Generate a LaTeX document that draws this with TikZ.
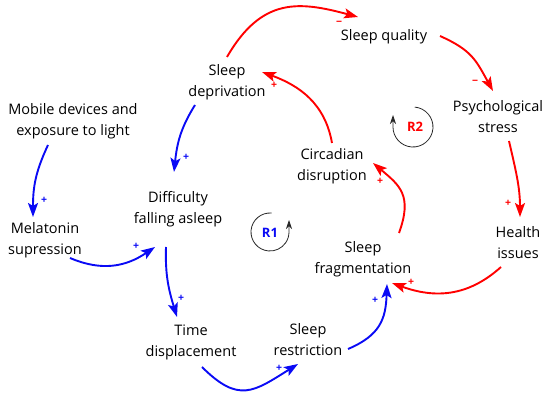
\documentclass[tikz,border=0pt]{standalone}
\usepackage{fontspec}
\setmainfont{Open Sans}
\usetikzlibrary{arrows.meta}
\definecolor{cred}{RGB}{255,0,0}
\definecolor{cblue}{RGB}{10,10,245}
\definecolor{cloop}{RGB}{40,40,40}
\begin{document}
\begin{tikzpicture}[x=1pt,y=1pt,
  lbl/.style={font=\fontsize{14.5}{21}\selectfont, align=center, inner sep=1pt},
  rarr/.style={draw=cred, line width=1.9pt, -{Stealth[length=14pt,width=10pt,inset=3pt]}},
  barr/.style={draw=cblue, line width=1.9pt, -{Stealth[length=14pt,width=10pt,inset=3pt]}},
  rsgn/.style={font=\fontsize{10.5}{10.5}\selectfont\bfseries, inner sep=0pt, text=cred},
  bsgn/.style={font=\fontsize{10.5}{10.5}\selectfont\bfseries, inner sep=0pt, text=cblue},
  loopc/.style={draw=cloop, line width=0.8pt, -{Stealth[length=9pt,width=6pt]}},
  looplbl/.style={font=\fontsize{13}{13}\selectfont\bfseries, inner sep=0pt}]
\useasboundingbox (0,0) rectangle (550,-398);

% nodes
\node[lbl] (sq)  at (384,-37)  {Sleep quality};
\node[lbl] (sd)  at (227,-82)  {Sleep\\deprivation};
\node[lbl] (md)  at (73,-121)  {Mobile devices and\\exposure to light};
\node[lbl] (ps)  at (498,-117) {Psychological\\stress};
\node[lbl] (cd)  at (332,-166) {Circadian\\disruption};
\node[lbl] (dfa) at (178,-209) {Difficulty\\falling asleep};
\node[lbl] (ms)  at (45,-240)  {Melatonin\\supression};
\node[lbl] (hi)  at (518,-243) {Health\\issues};
\node[lbl] (sf)  at (363,-259) {Sleep\\fragmentation};
\node[lbl] (td)  at (191,-342) {Time\\displacement};
\node[lbl] (sr)  at (308,-340) {Sleep\\restriction};
\node[looplbl, text=cblue] (r1) at (270,-233) {R1};
\node[looplbl, text=cred]  (r2) at (415,-127) {R2};

% red connectors
\draw[rarr] ([shift={(0,25)}]sd.center) .. controls +(60:70) and +(165:60) .. ([shift={(-26,20)}]sq.center);
\draw[rarr] ([shift={(56,1)}]sq.center) .. controls +(-24:35) and +(119:35) .. ([shift={(-5,26)}]ps.center);
\draw[rarr] ([shift={(11,-24)}]ps.center) .. controls +(-77:30) and +(90:30) .. ([shift={(2,26)}]hi.center);
\draw[rarr] ([shift={(-17,-24)}]hi.center) .. controls +(222:45) and +(-20:45) .. ([shift={(29,-24)}]sf.center);
\draw[rarr] ([shift={(36,26)}]sf.center) .. controls +(70:40) and +(-40:35) .. ([shift={(41,3)}]cd.center);
\draw[rarr] ([shift={(0,23)}]cd.center) .. controls +(100:40) and +(-20:40) .. ([shift={(35,10)}]sd.center);

% blue connectors
\draw[barr] ([shift={(-32,-23)}]sd.center) .. controls +(238:28) and +(84:28) .. ([shift={(-4,37)}]dfa.center);
\draw[barr] ([shift={(-25,-24)}]md.center) .. controls +(245:30) and +(90:30) .. ([shift={(-12,23)}]ms.center);
\draw[barr] ([shift={(25,-18)}]ms.center) .. controls +(-23:35) and +(214:35) .. ([shift={(-23,-38)}]dfa.center);
\draw[barr] ([shift={(-12,-38)}]dfa.center) .. controls +(-92:28) and +(107:28) .. ([shift={(-14,25)}]td.center);
\draw[barr] ([shift={(11,-25)}]td.center) .. controls +(-45:52) and +(212:52) .. ([shift={(-10,-24)}]sr.center);
\draw[barr] ([shift={(40,-9)}]sr.center) .. controls +(23:35) and +(-92:35) .. ([shift={(24,-25)}]sf.center);

% polarity signs
\node[rsgn] (s1) at (339,-23)  {−};
\node[rsgn] (s2) at (475,-82)  {−};
\node[rsgn] (s3) at (508,-203) {+};
\node[rsgn] (s4) at (411,-282) {+};
\node[rsgn] (s5) at (380,-181) {+};
\node[rsgn] (s6) at (274,-85)  {+};
\node[bsgn] (s7) at (186,-157) {+};
\node[bsgn] (s8) at (44,-200)  {+};
\node[bsgn] (s9) at (136,-246) {+};
\node[bsgn] (s10) at (181,-298) {+};
\node[bsgn] (s11) at (279,-368) {+};
\node[bsgn] (s12) at (375,-300) {+};

% loop markers
\draw[loopc] ([yshift=1]r1.center) ++(85:19) arc[start angle=85, end angle=360, radius=19] -- ++(0,12);
\draw[loopc] ([xshift=-2]r2.center) ++(85:20) arc[start angle=85, end angle=-180, radius=20] -- ++(0,12);
\end{tikzpicture}
\end{document}
